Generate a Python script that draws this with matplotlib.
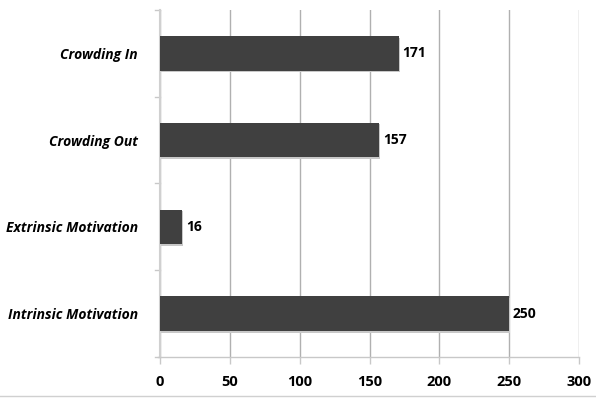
import matplotlib.pyplot as plt
from matplotlib.lines import Line2D

plt.rcParams['font.family'] = ['Open Sans', 'DejaVu Sans']

# 各类别及数值（自下而上）
categories = ['Intrinsic Motivation', 'Extrinsic Motivation', 'Crowding Out', 'Crowding In']
values = [250, 16, 157, 171]
xticks = [0, 50, 100, 150, 200, 250, 300]

fig = plt.figure(figsize=(5.96, 3.98), dpi=100)
ax = fig.add_axes([0.2685, 0.103, 0.703, 0.872])

pos = range(len(categories))
# 阴影
ax.barh([p - 0.02 for p in pos], [v + 0.8 for v in values], height=0.4,
        color='#c8c8c8', zorder=2)
ax.barh(pos, values, height=0.4, color='#404040', zorder=3)

for p, v in zip(pos, values):
    ax.text(v + 2.5, p, str(v), va='center', ha='left', fontsize=10,
            fontweight='bold', color='black')

ax.set_xlim(0, 300)
ax.set_ylim(-0.5, len(categories) - 0.5)
ax.set_xticks(xticks)
ax.set_xticklabels([str(t) for t in xticks], fontsize=10.5, fontweight='bold')
ax.set_yticks(list(pos))
ax.set_yticklabels(categories, fontsize=10, fontweight='bold', style='italic')
ax.tick_params(axis='y', length=0, pad=16)
ax.tick_params(axis='x', length=5, width=1, color='#c8c8c8', direction='out', pad=8)

# 类别分隔刻度
for b in [i - 0.5 for i in range(len(categories) + 1)]:
    ax.add_line(Line2D([-0.012, 0], [b, b], transform=ax.get_yaxis_transform(),
                       color='#c8c8c8', lw=1, clip_on=False))

ax.grid(axis='x', color='#b0b0b0', lw=1, zorder=0)
for s in ['top', 'right']:
    ax.spines[s].set_visible(False)
ax.spines['left'].set_color('#d0d0d0')
ax.spines['left'].set_linewidth(1.5)
ax.spines['bottom'].set_color('#c8c8c8')
ax.spines['bottom'].set_linewidth(1)
ax.spines['bottom'].set_bounds(-1.2, 300)

fig.add_artist(Line2D([0, 1], [0.004, 0.004], color='#d0d0d0', lw=1))

plt.savefig('out.png')
